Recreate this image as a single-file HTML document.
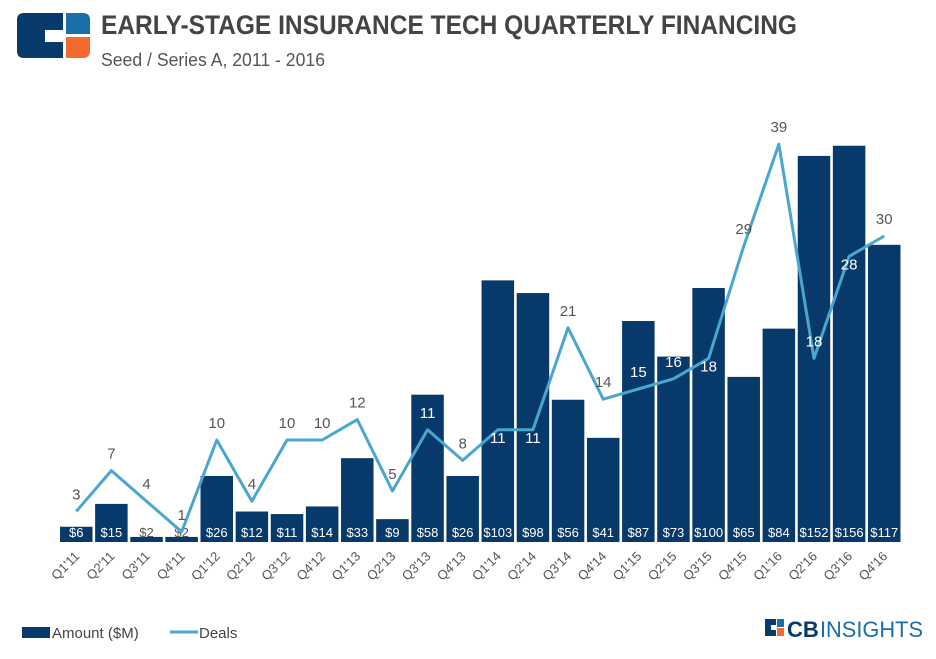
<!DOCTYPE html>
<html><head><meta charset="utf-8"><style>
body{margin:0;background:#fff;width:936px;height:654px;overflow:hidden;font-family:"Liberation Sans",sans-serif}
</style></head><body>
<svg width="936" height="654" viewBox="0 0 936 654">
<g>
<path d="M24,13 H63 V30 H45 V42 H63 V58 H24 Q17,58 17,51 V20 Q17,13 24,13 Z" fill="#073a6b"/>
<path d="M66,13 H83 Q90,13 90,20 V34 H66 Z" fill="#1a6fa8"/>
<path d="M66,37 H90 V51 Q90,58 83,58 H66 Z" fill="#f26a2e"/>
</g>
<text x="101" y="34" font-size="27" font-weight="bold" fill="#444" textLength="696" lengthAdjust="spacingAndGlyphs">EARLY-STAGE INSURANCE TECH QUARTERLY FINANCING</text>
<text x="101" y="66" font-size="18" fill="#555" textLength="224" lengthAdjust="spacingAndGlyphs">Seed / Series A, 2011 - 2016</text>
<g id="plot"></g>
<g>
<rect x="22" y="627" width="28" height="11" fill="#073a6b"/>
<text x="52" y="638" font-size="15" fill="#444">Amount ($M)</text>
<line x1="170" y1="632" x2="198" y2="632" stroke="#4ba6cf" stroke-width="3"/>
<text x="199" y="638" font-size="15" fill="#444">Deals</text>
</g>
<g>
<path d="M765,619 H776 V625 H771 V630 H776 V636 H765 Z" fill="#073a6b"/>
<rect x="777" y="619" width="7" height="8" fill="#1a6fa8"/>
<rect x="777" y="628" width="7" height="8" fill="#f26a2e"/>
<text x="787" y="637" font-size="22" fill="#073a6b" font-weight="bold">CB</text>
<text x="820" y="637" font-size="22" fill="#1a6fa8" textLength="103" lengthAdjust="spacingAndGlyphs">INSIGHTS</text>
</g>
</svg>
<script>
const categories=["Q1'11","Q2'11","Q3'11","Q4'11","Q1'12","Q2'12","Q3'12","Q4'12","Q1'13","Q2'13","Q3'13","Q4'13","Q1'14","Q2'14","Q3'14","Q4'14","Q1'15","Q2'15","Q3'15","Q4'15","Q1'16","Q2'16","Q3'16","Q4'16"];
const amounts=[6,15,2,2,26,12,11,14,33,9,58,26,103,98,56,41,87,73,100,65,84,152,156,117];
const deals=[3,7,4,1,10,4,10,10,12,5,11,8,11,11,21,14,15,16,18,29,39,18,28,30];
const labelBelow=[12,13,18,22];
const NS="http://www.w3.org/2000/svg";
const plot=document.getElementById('plot');
const x0=60,slot=35.13,bw=32.5,base=542;
const yA=v=>base-v*2.54;
const yD=v=>base-v*10.2;
const cx=i=>x0+i*slot+bw/2;
function mk(t,a){const e=document.createElementNS(NS,t);for(const k in a)e.setAttribute(k,a[k]);plot.appendChild(e);return e;}
amounts.forEach((v,i)=>{
  const r=mk('rect',{x:x0+i*slot,y:yA(v),width:bw,height:base-yA(v),fill:'#073a6b'});
  
  
  const t=mk('text',{x:cx(i),y:537,'font-size':13,fill:(base-yA(v)>8?'#fff':'#555'),'text-anchor':'middle'});
  
  
  t.textContent='$'+v;
  const c=mk('text',{x:cx(i)+4,y:557,'font-size':13,fill:'#555','text-anchor':'end',transform:`rotate(-45 ${cx(i)+4} 557)`});
  
  
  c.textContent=categories[i];
});
const pts=deals.map((v,i)=>cx(i)+','+yD(v)).join(' ');
const pl=mk('polyline',{points:pts,fill:'none',stroke:'#4ba6cf','stroke-width':3,'stroke-linejoin':'round'});


deals.forEach((v,i)=>{
  const ly=labelBelow.includes(i)?yD(v)+13:yD(v)-12;
  const inBar=ly-6>yA(amounts[i]);
  const t=mk('text',{x:cx(i),y:ly,'font-size':15,fill:inBar?'#fff':'#555','text-anchor':'middle'});
  
  
  t.textContent=v;
});
</script>
</body></html>
